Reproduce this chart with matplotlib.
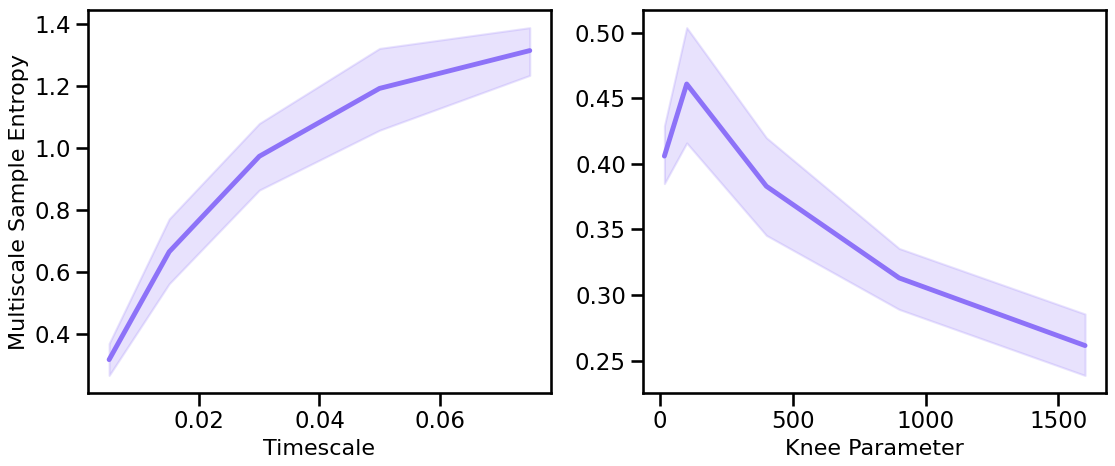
import numpy as np
import matplotlib
matplotlib.use("Agg")
import matplotlib.pyplot as plt
import seaborn as sns

sns.set_context("talk")
sns.set_style("ticks")
plt.rcParams.update({
    "axes.labelsize": 16,
    "text.color": "black",
    "axes.labelcolor": "black",
    "axes.edgecolor": "black",
    "xtick.color": "black",
    "ytick.color": "black",
})

# Timescale panel
timescale = [0.005, 0.015, 0.03, 0.05, 0.075]
mse_mean = [0.316, 0.664, 0.972, 1.191, 1.313]
mse_low = [0.265, 0.561, 0.863, 1.056, 1.233]
mse_high = [0.368, 0.770, 1.078, 1.320, 1.387]

# Knee parameter panel
knee = [16, 100, 400, 900, 1600]
knee_mean = [0.406, 0.461, 0.383, 0.313, 0.2614]
knee_low = [0.385, 0.416, 0.3455, 0.289, 0.2386]
knee_high = [0.429, 0.504, 0.420, 0.3355, 0.2855]

color = "#8d72f8"

fig, axes = plt.subplots(1, 2, figsize=(11.15, 4.66), dpi=100)

ax = axes[0]
ax.fill_between(timescale, mse_low, mse_high, color=color, alpha=0.2)
ax.plot(timescale, mse_mean, color=color, linewidth=3.5)
ax.set_xlabel("Timescale")
ax.set_ylabel("Multiscale Sample Entropy")
ax.set_xticks([0.02, 0.04, 0.06])

ax = axes[1]
ax.fill_between(knee, knee_low, knee_high, color=color, alpha=0.2)
ax.plot(knee, knee_mean, color=color, linewidth=3.5)
ax.set_xlabel("Knee Parameter")
ax.set_xticks([0, 500, 1000, 1500])

plt.subplots_adjust(left=0.079, right=0.992, top=0.978, bottom=0.157, wspace=0.2)
plt.savefig("out.png", dpi=100)
